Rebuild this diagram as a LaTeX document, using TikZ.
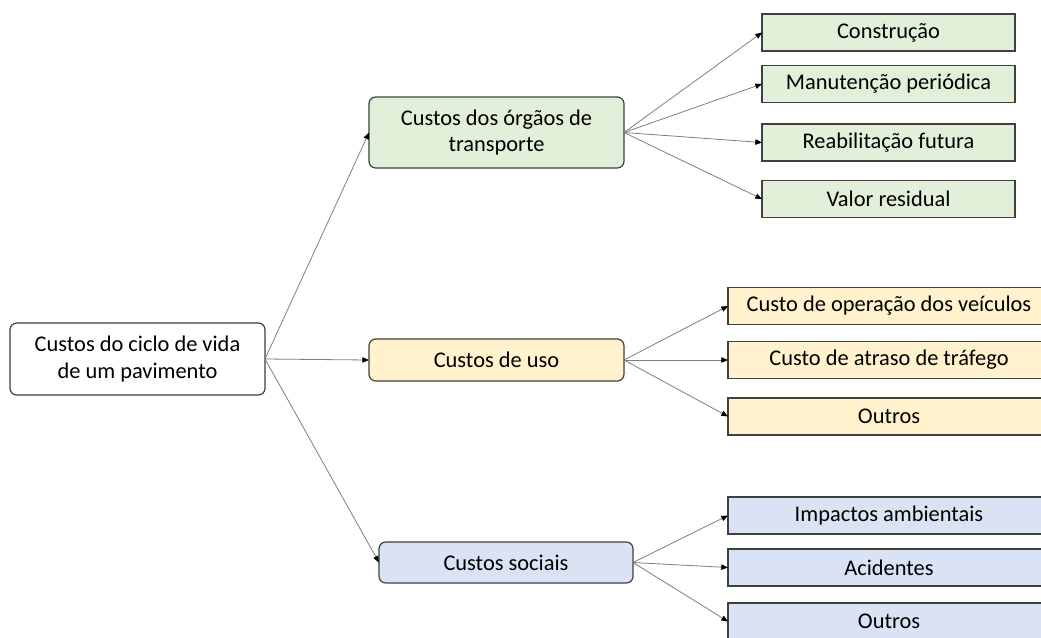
\documentclass[tikz,border=0pt]{standalone}
\usepackage{fontspec}
\setmainfont{Carlito}
\usetikzlibrary{arrows.meta}
\definecolor{bgreen}{HTML}{E2F0D9}
\definecolor{byellow}{HTML}{FFF2CC}
\definecolor{bblue}{HTML}{DAE3F3}
\definecolor{bborder}{HTML}{404040}
\definecolor{conn}{HTML}{7F7F7F}
\tikzset{
  base/.style={draw=bborder, line width=0.9pt, inner sep=0pt, outer sep=0pt, align=center,
    font=\fontsize{16.8}{20}\selectfont, text=black},
  topbox/.style={base, rounded corners=5pt, minimum width=255*0.75pt},
  leafbox/.style={base, minimum height=37*0.75pt},
  gleaf/.style={leafbox, fill=bgreen, minimum width=253*0.75pt},
  wleaf/.style={leafbox, minimum width=322*0.75pt},
  conn/.style={draw=conn, line width=0.6pt, -{Triangle[length=5pt,width=4pt,color=black]}}
}
\begin{document}
\begin{tikzpicture}[x=0.75pt,y=-0.75pt]
\clip (0,0) rectangle (1041,637);
\fill[white] (0,0) rectangle (1041,637);
% root
\node[topbox, fill=white, minimum height=72*0.75pt] (root) at (137.5,359) {Custos do ciclo de vida\\de um pavimento};
% level 1
\node[topbox, fill=bgreen, minimum height=71*0.75pt] (agency) at (496.5,132.5) {Custos dos órgãos de\\transporte};
\node[topbox, fill=byellow, minimum height=42*0.75pt] (user) at (496.5,360) {Custos de uso};
\node[topbox, fill=bblue, minimum height=41*0.75pt, minimum width=254*0.75pt] (social) at (506,562.5) {Custos sociais};
% level 2 green
\node[gleaf] (g1) at (888.5,32.5) {Construção};
\node[gleaf] (g2) at (888.5,84) {Manutenção periódica};
\node[gleaf] (g3) at (888.5,142.5) {Reabilitação futura};
\node[gleaf] (g4) at (888.5,199) {Valor residual};
% level 2 yellow
\node[wleaf, fill=byellow] (y1) at (889,306) {Custo de operação dos veículos};
\node[wleaf, fill=byellow] (y2) at (889,360) {Custo de atraso de tráfego};
\node[wleaf, fill=byellow] (y3) at (889,416.5) {Outros};
% level 2 blue
\node[wleaf, fill=bblue] (b1) at (889,515.5) {Impactos ambientais};
\node[wleaf, fill=bblue] (b2) at (889,567.5) {Acidentes};
\node[wleaf, fill=bblue] (b3) at (889,621.5) {Outros};
% connectors
\draw[conn] (root.east) -- (agency.west);
\draw[conn] (root.east) -- (user.west);
\draw[conn] (root.east) -- (social.west);
\foreach \t in {g1,g2,g3,g4} \draw[conn] (agency.east) -- (\t.west);
\foreach \t in {y1,y2,y3} \draw[conn] (user.east) -- (\t.west);
\foreach \t in {b1,b2,b3} \draw[conn] (social.east) -- (\t.west);
\end{tikzpicture}
\end{document}
